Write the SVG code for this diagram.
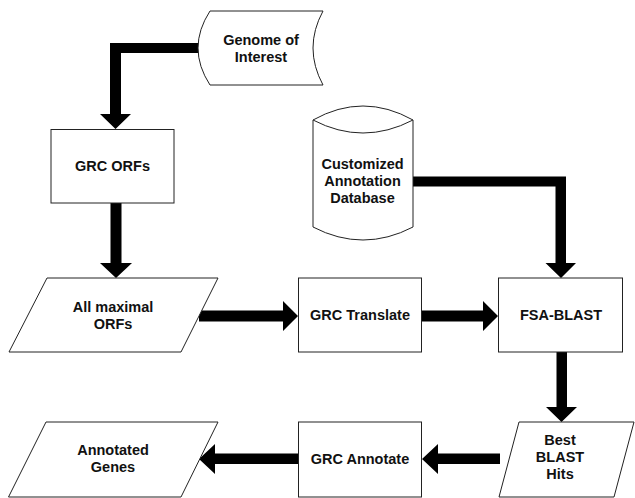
<svg xmlns="http://www.w3.org/2000/svg" width="635" height="498" viewBox="0 0 635 498">
  <style>
    .shape { fill: #ffffff; stroke: #222222; stroke-width: 1; }
    .label { font-family: "Liberation Sans", Arial, sans-serif; font-weight: bold; font-size: 14.5px; fill: #111111; text-anchor: middle; }
    .flow { fill: #000000; stroke: none; }
  </style>
  <rect width="635" height="498" fill="#ffffff"/>

  <!-- connectors: thick block arrows -->
  <g id="connectors">
    <!-- Genome of Interest -> GRC ORFs -->
    <polygon class="flow" points="199,43 110,43 110,114 100,114 115.5,129 131,114 121,114 121,53 199,53"/>
    <!-- GRC ORFs -> All maximal ORFs -->
    <polygon class="flow" points="110.5,203 121.5,203 121.5,263 132,263 116,278 100,263 110.5,263"/>
    <!-- All maximal ORFs -> GRC Translate -->
    <polygon class="flow" points="199,310.5 283,310.5 283,301 298,316 283,331 283,321.5 199,321.5"/>
    <!-- GRC Translate -> FSA-BLAST -->
    <polygon class="flow" points="422,310.5 483,310.5 483,301 498,316 483,331 483,321.5 422,321.5"/>
    <!-- Customized Annotation Database -> FSA-BLAST -->
    <polygon class="flow" points="413,176.5 566,176.5 566,263 576,263 561,278 545.5,263 555.5,263 555.5,186.5 413,186.5"/>
    <!-- FSA-BLAST -> Best BLAST Hits -->
    <polygon class="flow" points="556.5,352 567,352 567,407 577,407 561.5,422 546,407 556.5,407"/>
    <!-- Best BLAST Hits -> GRC Annotate -->
    <polygon class="flow" points="500,453.5 438,453.5 438,444 422,459 438,474 438,464 500,464"/>
    <!-- GRC Annotate -> Annotated Genes -->
    <polygon class="flow" points="298,453.5 215,453.5 215,444 199,459 215,474 215,464 298,464"/>
  </g>

  <g id="genome-of-interest">
    <path class="shape" d="M210,11 L323,11 Q303,48 323,85 L210,85 Q186,48 210,11 Z"/>
    <text class="label" x="261" y="44.5">Genome of</text>
    <text class="label" x="261" y="61.5">Interest</text>
  </g>

  <g id="grc-orfs">
    <rect class="shape" x="51" y="129.5" width="123" height="73.5"/>
    <text class="label" x="112.5" y="171">GRC ORFs</text>
  </g>

  <g id="annotation-database">
    <path class="shape" d="M313,120 L313,227 Q363,253 413,227 L413,120 Q363,92 313,120 Z"/>
    <path class="shape" d="M313,120 Q363,146 413,120" fill="none"/>
    <text class="label" x="362.5" y="169">Customized</text>
    <text class="label" x="362.5" y="186">Annotation</text>
    <text class="label" x="362.5" y="203">Database</text>
  </g>

  <g id="all-maximal-orfs">
    <polygon class="shape" points="47,278 218,278 181,352 9,352"/>
    <text class="label" x="113" y="311.5">All maximal</text>
    <text class="label" x="113" y="328.5">ORFs</text>
  </g>

  <g id="grc-translate">
    <rect class="shape" x="298.5" y="278" width="123" height="74"/>
    <text class="label" x="360" y="320">GRC Translate</text>
  </g>

  <g id="fsa-blast">
    <rect class="shape" x="498.5" y="278" width="124" height="74"/>
    <text class="label" x="561" y="320">FSA-BLAST</text>
  </g>

  <g id="best-blast-hits">
    <polygon class="shape" points="519,422 634,422 614,497 499,497"/>
    <text class="label" x="560" y="444.5">Best</text>
    <text class="label" x="560" y="461.5">BLAST</text>
    <text class="label" x="560" y="478.5">Hits</text>
  </g>

  <g id="grc-annotate">
    <rect class="shape" x="298.5" y="422" width="123" height="75"/>
    <text class="label" x="360" y="464">GRC Annotate</text>
  </g>

  <g id="annotated-genes">
    <polygon class="shape" points="46,422 218,422 181,497 8.5,497"/>
    <text class="label" x="113" y="455">Annotated</text>
    <text class="label" x="113" y="472">Genes</text>
  </g>
</svg>
